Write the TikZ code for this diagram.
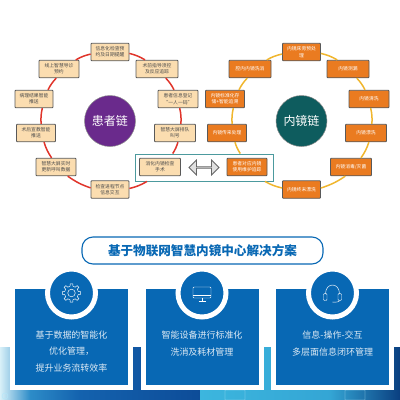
\documentclass[tikz,border=0pt]{standalone}
\usepackage{fontspec}
\setmainfont{Noto Sans CJK SC}
\usetikzlibrary{arrows.meta,positioning,shapes.arrows}
\definecolor{peach}{HTML}{FBDDB0}
\definecolor{ember}{HTML}{EA7B20}
\definecolor{plum}{HTML}{6A2A8C}
\definecolor{pine}{HTML}{0E5C5E}
\definecolor{ruby}{HTML}{E0352B}
\definecolor{amber}{HTML}{F0B62E}
\definecolor{lake}{HTML}{4C9A9E}
\definecolor{royal}{HTML}{0868B4}
\definecolor{mist}{HTML}{DCE9F4}
\definecolor{pale}{HTML}{D8F0F8}
\definecolor{sky}{HTML}{2D8CC8}
\definecolor{deep}{HTML}{1462AE}
\definecolor{navy}{HTML}{0D4C98}
\definecolor{aqua}{HTML}{3CB6DE}
\definecolor{ink}{HTML}{0A3F80}
\begin{document}
\begin{tikzpicture}[x=1pt,y=-1pt,on grid,
pbox/.style={draw=black!65,line width=.8pt,rounded corners=.8pt,align=center,inner sep=0pt,minimum height=17.5pt,fill=peach,text=black!70,font=\fontsize{4.8}{6.3}\selectfont},
ebox/.style={draw=black!65,line width=.8pt,rounded corners=.8pt,align=center,inner sep=0pt,minimum height=17.5pt,fill=ember,text=white,font=\fontsize{4.8}{6.3}\selectfont},
core/.style={circle,draw=black!45,line width=.5pt,minimum size=51pt,inner sep=0pt,text=white,font=\fontsize{12}{14}\selectfont},
panel/.style={draw=white,line width=5pt,fill=royal,minimum width=118pt,minimum height=101pt,inner sep=0pt},
badge/.style={circle,draw=white,line width=5pt,fill=royal,minimum size=48pt,inner sep=0pt},
ptext/.style={align=center,text=mist,inner sep=0pt,font=\fontsize{9}{16.5}\selectfont},
icon/.style={draw=white,line width=.45pt,line join=round}]
\useasboundingbox (0,0) rectangle (400,400);
% band behind the panels
\shade[left color=pale,right color=sky] (0,347) rectangle (30,400);
\shade[left color=sky,right color=deep] (30,347) rectangle (80,400);
\shade[left color=deep,right color=navy] (80,347) rectangle (200,400);
\shade[left color=aqua,right color=aqua!80!deep] (200,347) rectangle (330,400);
\shade[left color=aqua!80!deep,right color=ink] (330,347) rectangle (400,400);
\draw[white!70!cyan,line width=.4pt] (5,396) circle (3) (225,390) rectangle (245,400) (345,390) rectangle (365,400);
% chains
\node[core,fill=plum] (pcore) at (110,121){患者链};
\node[core,fill=pine] (tcore) at (301.5,121){内镜链};
\node[draw=lake,line width=.9pt,fill=white,minimum width=138pt,minimum height=27pt,inner sep=0pt] (link) at (204,167.5){};
\node[pbox,minimum width=38pt,above=69pt of pcore] (n1){信息化检查预\\约及日期提醒};
\node[pbox,minimum width=42pt,above right=52pt and 47pt of pcore] (n2){术前指导须控\\及反应追踪};
\node[pbox,minimum width=40pt,above right=22pt and 68pt of pcore] (n3){患者信息登记\\“一人一码”};
\node[pbox,minimum width=41pt,below right=12pt and 65pt of pcore] (n4){智慧大屏排队\\叫号};
\node[pbox,minimum width=41pt,below right=46pt and 50pt of pcore] (n5){消化内镜检查\\手术};
\node[pbox,minimum width=38pt,below=68.5pt of pcore] (n6){检查进程节点\\信息交互};
\node[pbox,minimum width=40pt,below left=46pt and 54pt of pcore] (n7){智慧大屏实时\\更新呼叫数据};
\node[pbox,minimum width=39pt,below left=12pt and 74pt of pcore] (n8){术后宣教智能\\推送};
\node[pbox,minimum width=38pt,above left=22pt and 76pt of pcore] (n9){病理结果智能\\推送};
\node[pbox,minimum width=40pt,above left=52pt and 51pt of pcore] (n10){线上智慧导诊\\预约};
\node[ebox,minimum width=38pt,above=69pt of tcore] (r1){内镜床旁预处\\理};
\node[ebox,minimum width=42pt,above right=52pt and 46.5pt of tcore] (r2){内镜测漏};
\node[ebox,minimum width=40pt,above right=22pt and 67.5pt of tcore] (r3){内镜清洗};
\node[ebox,minimum width=41pt,below right=12pt and 64.5pt of tcore] (r4){内镜漂洗};
\node[ebox,minimum width=41pt,below right=46pt and 49.5pt of tcore] (r5){内镜消毒/灭菌};
\node[ebox,minimum width=38pt,below=68.5pt of tcore] (r6){内镜终末漂洗};
\node[ebox,minimum width=40pt,below left=46pt and 54.5pt of tcore] (r7){患者对应内镜\\使用维护追踪};
\node[ebox,minimum width=39pt,below left=12pt and 74.5pt of tcore] (r8){内镜传来处理};
\node[ebox,minimum width=39pt,above left=22pt and 76.5pt of tcore] (r9){内镜标准化存\\储+智能追溯};
\node[ebox,minimum width=42pt,above left=52pt and 51.5pt of tcore] (r10){腔内内镜洗消};
\node[double arrow,draw=black!60,line width=.8pt,fill=black!12,minimum height=30pt,minimum width=15pt,double arrow head extend=4pt,inner sep=0pt] (swap) at (204,167.5){};
\foreach \a/\sa/\b/\sb in {n1.east/{0,1.4}/n2.north/{-12,0},n2.south/{8.8,0}/n3.north/{-4,0},n3.south/{1.7,0}/n4.north/{5.9,0},n4.south/{2.9,0}/link.north/{-31.3,0},link.south/{-57,0}/n6.east/{0,-1},n6.west/{0,-1.6}/n7.south/{11.7,0},n7.north/{-4.4,0}/n8.south/{8,0},n8.north/{5.1,0}/n9.south/{8.3,0},n9.north/{14,0}/n10.south/{-2.8,0},n10.north/{16.8,0}/n1.west/{0,2.1}}
  \draw[ruby,line width=1.5pt] ([shift={(\sa)}]\a) to[bend left=8] ([shift={(\sb)}]\b);
\foreach \a/\sa/\b/\sb in {r1.east/{0,1.4}/r2.north/{-10.8,0},r2.south/{8.8,0}/r3.north/{-4,0},r3.south/{1.7,0}/r4.north/{5.9,0},r4.south/{2.9,0}/r5.north/{10,0},r5.south/{-5.7,0}/r6.east/{0,-1.5},r6.west/{0,-1.5}/link.south/{61,0},link.north/{36.3,0}/r8.south/{8,0},r8.north/{5.1,0}/r9.south/{8.3,0},r9.north/{14,0}/r10.south/{-2.8,0},r10.north/{16.8,0}/r1.west/{0,2}}
  \draw[amber,line width=1.5pt] ([shift={(\sa)}]\a) to[bend left=8] ([shift={(\sb)}]\b);
% heading and panels
\node[draw=royal,line width=1.1pt,fill=white,rounded corners=11pt,minimum width=241pt,minimum height=27pt,inner sep=0pt,text=royal,font=\fontsize{12.6}{14}\selectfont\bfseries] (head) at (202.5,250.5){基于物联网智慧内镜中心解决方案};
\node[panel] (p1) at (71.5,337){};
\node[panel] (p2) at (202,337){};
\node[panel] (p3) at (332.5,337){};
\node[badge] (b1) at (71.5,293){};
\node[badge] (b2) at (202,293){};
\node[badge] (b3) at (332.5,293){};
\node[ptext] (t1) at (71.5,351.5){基于数据的智能化\\优化管理，\\提升业务流转效率};
\node[ptext] (t2) at (202,343.5){智能设备进行标准化\\洗消及耗材管理};
\node[ptext] (t3) at (332.5,343.5){信息-操作-交互\\多层面信息闭环管理};
% icons
\begin{scope}[shift={(b1.center)}]
\draw[icon] (0,0) circle (3.8);
\foreach \g in {0,45,...,315}
  \draw[icon] (\g-22.5:6.8)--(\g-12:7)--(\g-8:9.3)--(\g+8:9.3)--(\g+12:7)--(\g+22.5:6.8);
\end{scope}
\begin{scope}[shift={(b2.center)}]
\draw[icon,rounded corners=1pt] (-9,-6) rectangle (9,5);
\draw[icon] (-9,2.5)--(9,2.5) (0,5)--(0,8) (-3.5,8)--(3.5,8);
\end{scope}
\begin{scope}[shift={(b3.center)}]
\draw[icon] (-7,1) .. controls (-7,-11) and (7,-11) .. (7,1);
\draw[icon,rounded corners=1pt] (-9,0.5) rectangle (-5.5,7.5) (5.5,0.5) rectangle (9,7.5);
\draw[icon] (7,7.5) .. controls (7,9) and (4,9.2) .. (0,9.2);
\end{scope}
\end{tikzpicture}
\end{document}
